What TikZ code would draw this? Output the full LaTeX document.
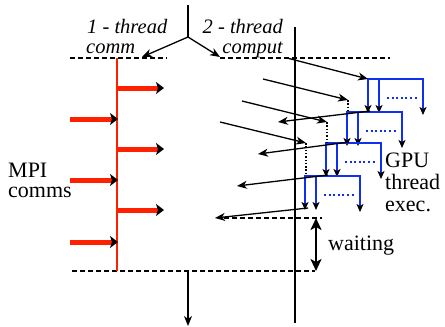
\documentclass[tikz,border=0pt]{standalone}
\usepackage{fontspec}
\setmainfont{Liberation Serif}
\newfontfamily\tms{Liberation Serif}
\usetikzlibrary{arrows.meta}
\definecolor{myred}{RGB}{255,32,0}
\definecolor{myblue}{RGB}{16,48,240}
\begin{document}
\begin{tikzpicture}[x=1pt,y=-1pt,
  txt/.style={inner sep=0pt, font=\tms\fontsize{22}{22}\selectfont, anchor=base west},
  itl/.style={inner sep=0pt, font=\tms\fontsize{20.5}{20}\selectfont\itshape},
  blk/.style={line width=1.3pt},
  blkarr/.style={line width=1.3pt, -{Stealth[length=10pt,width=8pt,inset=3pt]}},
  redline/.style={myred, line width=2pt},
  redarr/.style={myred, line width=5pt, -{Stealth[color=black,length=8pt,width=12pt,inset=2pt]}},
  bluearr/.style={myblue, line width=2.4pt, line join=miter, -{Stealth[color=black,length=8pt,width=7pt,inset=2pt]}},
  blueline/.style={myblue, line width=2.4pt},
  bluedot/.style={myblue, line width=1.8pt, dash pattern=on 2pt off 2.6pt},
  blackdot/.style={line width=1.5pt, dash pattern=on 1.5pt off 1.8pt},
  dashln/.style={line width=1.3pt, dash pattern=on 5pt off 3pt},
  waitarr/.style={line width=2.6pt, {Stealth[length=12pt,width=11pt,inset=3pt]}-{Stealth[length=12pt,width=11pt,inset=3pt]}}
]
\useasboundingbox (0,0) rectangle (445,327);

% top fork
\coordinate (forktop) at (188,5);
\coordinate (fork) at (188,37);
\coordinate (commend) at (142,57);
\coordinate (compend) at (220,57);
\draw[blk] (forktop) -- (fork);
\draw[blkarr] (fork) -- (commend);
\draw[blkarr] (fork) -- (compend);

% labels
\node[itl, anchor=base west] (l1a) at (87,33) {1 - thread};
\node[itl, anchor=base west] (l1b) at (86,53) {comm};
\node[itl, anchor=base east] (l2a) at (283,33) {2 - thread};
\node[itl, anchor=base east] (l2b) at (283,53) {comput};

% dashed lines
\draw[dashln] (70,58) -- (167,58);
\draw[dashln] (220,58) -- (390,58);
\draw[dashln] (72,271) -- (315,271);

% main vertical line
\coordinate (vtop) at (295,27);
\coordinate (vbot) at (295,323);
\draw[line width=1.3pt] (vtop) -- (vbot);

% red comm thread
\coordinate (rtop) at (117,58);
\coordinate (rbot) at (117,271);
\draw[redline] (rtop) -- (rbot);
\foreach \y in {88,149,210} \draw[redarr] (117,\y) -- (164,\y);
\foreach \y in {119,180,242} \draw[redarr] (70,\y) -- (118,\y);

% MPI comms
\node[txt] (mpi1) at (8,177) {MPI};
\node[txt] (mpi2) at (8,197) {comms};

% GPU blocks
\foreach \L/\T in {368/79, 347/112, 326/143, 305/176} {
  \draw[bluearr] (\L,\T) -- (\L,\T+34);
  \draw[bluearr] (\L+11,\T) -- (\L+11,\T+34);
  \draw[blueline] (\L-1.2,\T) -- (\L+55,\T);
  \draw[bluearr] (\L+55,\T-1.2) -- (\L+55,\T+36);
  \draw[bluedot] (\L+19,\T+19) -- (\L+51,\T+19);
}

% dotted black connectors
\draw[blackdot] (348,100) -- (348,112);
\draw[blackdot] (327,122) -- (327,143);
\draw[blackdot] (306,143) -- (306,176);

% incoming arrows
\draw[blkarr] (287,58) -- (368,79);
\draw[blkarr] (263,79) -- (348,100);
\draw[blkarr] (242,101) -- (327,122);
\draw[blkarr] (220,122) -- (306,143);

% outgoing arrows
\draw[blkarr] (370,111) -- (278,122);
\draw[blkarr] (349,142) -- (258,154);
\draw[blkarr] (328,175) -- (237,186);
\draw[blkarr] (308,208) -- (215,218);

% waiting
\draw[dashln] (224,218) -- (322,218);
\coordinate (wtop) at (316,218);
\coordinate (wbot) at (316,271);
\draw[waitarr] (wtop) -- (wbot);
\node[txt] (wait) at (328,250) {waiting};

% GPU thread exec
\node[txt] (g1) at (385,167) {GPU};
\node[txt] (g2) at (385,189) {thread};
\node[txt] (g3) at (385,211) {exec.};

% bottom arrow
\coordinate (bstart) at (188,271);
\coordinate (bend) at (188,326);
\draw[blkarr] (bstart) -- (bend);
\end{tikzpicture}
\end{document}
